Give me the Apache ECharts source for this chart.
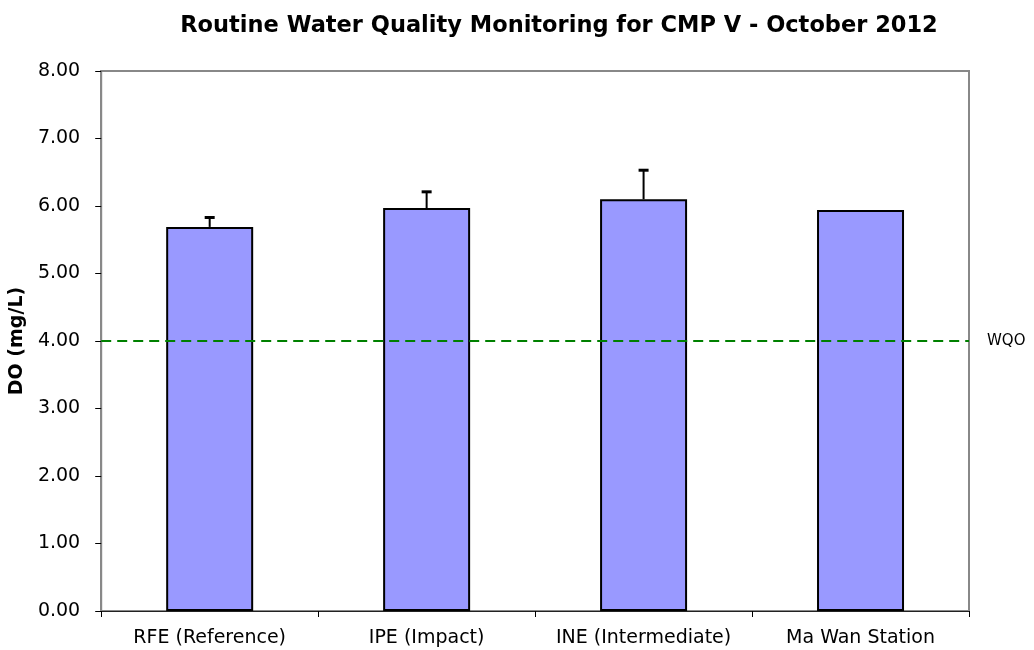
<!DOCTYPE html>
<html>
<head>
<meta charset="utf-8">
<script src="https://cdn.jsdelivr.net/npm/echarts@6/dist/echarts.min.js"></script>
<style>
  html, body { margin: 0; padding: 0; background: #fff; }
  #chart { width: 1034px; height: 650px; }
</style>
</head>
<body>
<div id="chart"></div>
<script>
var categories = ['RFE (Reference)', 'IPE (Impact)', 'INE (Intermediate)', 'Ma Wan Station'];
var doMean = [5.69, 5.97, 6.10, 5.94];
var doErr = [0.14, 0.24, 0.43, 0];
var wqo = 4.0;
var yTicks = [0, 1, 2, 3, 4, 5, 6, 7, 8];

var font = '"DejaVu Sans", "Liberation Sans", Arial, sans-serif';
var chart = echarts.init(document.getElementById('chart'), null, { renderer: 'canvas' });

// error bars: upper whisker only (lower part sits inside the bar)
var errData = doMean.map(function(v, i) { return [i, v, v + doErr[i]]; });

chart.setOption({
  animation: false,
  title: {
    text: 'Routine Water Quality Monitoring for CMP V - October 2012',
    left: 554, top: 10, textAlign: 'center',
    textStyle: { fontFamily: font, fontSize: 22.5, fontWeight: 'bold', color: '#000' }
  },
  grid: { left: 101, right: 65, top: 71, bottom: 39, show: true, borderColor: '#888', borderWidth: 2, backgroundColor: '#fff' },
  xAxis: {
    type: 'category',
    data: categories,
    axisLine: { lineStyle: { color: '#222', width: 1 } },
    axisTick: { show: true, length: 6, interval: 0, lineStyle: { color: '#000' } },
    axisLabel: { fontFamily: font, fontSize: 19, color: '#000', margin: 18, interval: 0, hideOverlap: false }
  },
  yAxis: {
    type: 'value',
    min: yTicks[0], max: yTicks[yTicks.length - 1], interval: 1,
    name: 'DO (mg/L)',
    nameLocation: 'middle', nameGap: 66, nameRotate: 90,
    nameTextStyle: { fontFamily: font, fontSize: 19, fontWeight: 'bold', color: '#000' },
    axisLine: { show: true, lineStyle: { color: '#888', width: 2 } },
    axisTick: { show: true, length: 6, inside: false, lineStyle: { color: '#000' } },
    splitLine: { show: false },
    axisLabel: { fontFamily: font, fontSize: 19, color: '#000', margin: 21,
      formatter: function(v) { return v.toFixed(2); } }
  },
  series: [{
    type: 'bar',
    data: doMean,
    barWidth: 87,
    itemStyle: { color: '#9999ff', borderColor: '#000', borderWidth: 2 },
    markLine: {
      symbol: 'none',
      silent: true,
      data: [{ yAxis: wqo }],
      lineStyle: { color: '#008000', type: [10, 6], width: 2 },
      label: { show: true, position: 'end', formatter: 'WQO', fontFamily: font, fontSize: 15, color: '#000', distance: 18 }
    }
  }, {
    type: 'custom',
    data: errData,
    z: 5,
    renderItem: function(params, api) {
      var lo = api.coord([api.value(0), api.value(1)]);
      var hi = api.coord([api.value(0), api.value(2)]);
      if (api.value(2) <= api.value(1)) return null;
      var cap = 5;
      return {
        type: 'group',
        children: [
          { type: 'line', shape: { x1: lo[0], y1: lo[1], x2: hi[0], y2: hi[1] }, style: { stroke: '#000', lineWidth: 2 } },
          { type: 'line', shape: { x1: hi[0] - cap, y1: hi[1], x2: hi[0] + cap, y2: hi[1] }, style: { stroke: '#000', lineWidth: 3 } }
        ]
      };
    }
  }]
});
window.addEventListener('resize', function() { chart.resize(); });
</script>
</body>
</html>
